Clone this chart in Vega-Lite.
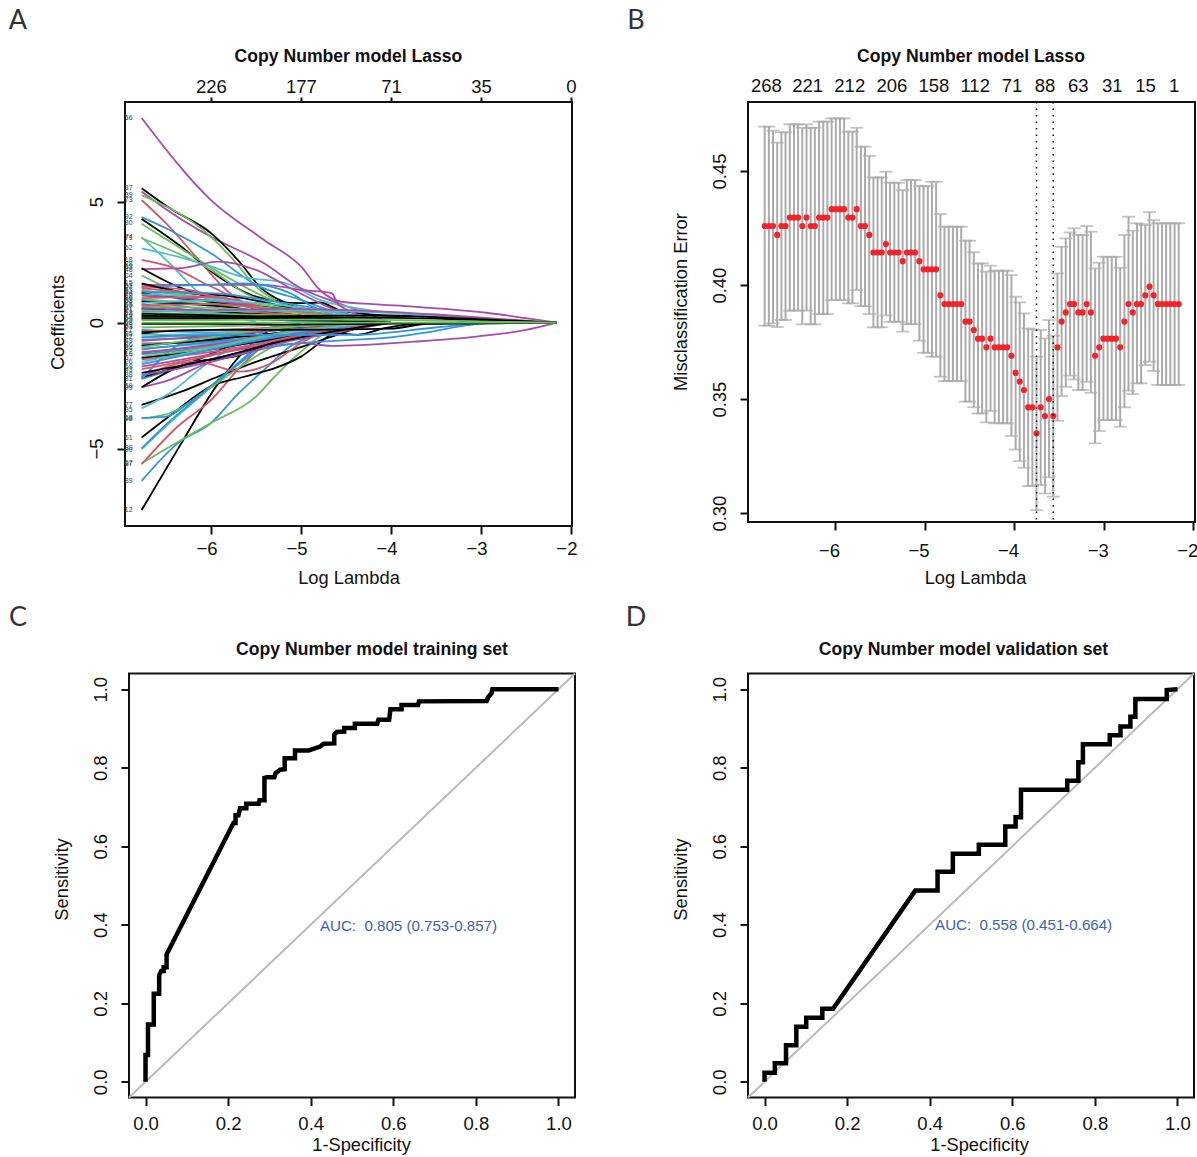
{"$schema":"https://vega.github.io/schema/vega-lite/v6.json","background":"white","padding":{"left":7,"top":6,"right":0,"bottom":0},"bounds":"flush","columns":2,"spacing":{"row":147.5,"column":173},
"config":{"font":"Liberation Sans","view":{"stroke":"#111","strokeWidth":2},"axis":{"domain":false,"grid":false,"tickColor":"#111","tickWidth":2,"tickSize":8,"labelFont":"Liberation Sans","labelFontSize":18.5,"labelColor":"#111","titleFont":"Liberation Sans","titleFontSize":18.3,"titleFontWeight":"normal","titleColor":"#111","labelOverlap":false,"labelBound":false,"labelFlush":false,"labelPadding":5,"titlePadding":12},"axisY":{"labelAngle":-90,"labelAlign":"center","labelBaseline":"bottom","labelPadding":11,"titlePadding":20}},
"datasets":{
"lines":[
{"l":"a1","c":"p","x":-6.77,"y":8.35},{"l":"a1","c":"p","x":-6,"y":5},{"l":"a1","c":"p","x":-5.41,"y":3.37},{"l":"a1","c":"p","x":-5,"y":2.29},{"l":"a1","c":"p","x":-4.79,"y":1.33},{"l":"a1","c":"p","x":-4.55,"y":0.85},{"l":"a1","c":"p","x":-4.2,"y":0.75},{"l":"a1","c":"p","x":-3.75,"y":0.65},{"l":"a1","c":"p","x":-2.9,"y":0.38},{"l":"a1","c":"p","x":-2.5,"y":0.18},{"l":"a1","c":"p","x":-2.16,"y":0},
{"l":"a2","c":"p","x":-6.77,"y":5.35},{"l":"a2","c":"p","x":-6.54,"y":4.73},{"l":"a2","c":"p","x":-6,"y":3.5},{"l":"a2","c":"p","x":-5.41,"y":2.42},{"l":"a2","c":"p","x":-5,"y":1.4},{"l":"a2","c":"p","x":-4.58,"y":0.79},{"l":"a2","c":"p","x":-4,"y":0},
{"l":"a3","c":"k","x":-6.77,"y":5.48},{"l":"a3","c":"k","x":-6.46,"y":4.67},{"l":"a3","c":"k","x":-6,"y":3.65},{"l":"a3","c":"k","x":-5.67,"y":2.42},{"l":"a3","c":"k","x":-5.46,"y":1.47},{"l":"a3","c":"k","x":-5.12,"y":0.72},{"l":"a3","c":"k","x":-4.87,"y":0.38},{"l":"a3","c":"k","x":-4.58,"y":0.1},
{"l":"a4","c":"g","x":-6.77,"y":5.2},{"l":"a4","c":"g","x":-6,"y":3.5},{"l":"a4","c":"g","x":-5.75,"y":2.56},{"l":"a4","c":"g","x":-5.5,"y":1.47},{"l":"a4","c":"g","x":-5.12,"y":0.65},{"l":"a4","c":"g","x":-4.79,"y":0.25},{"l":"a4","c":"g","x":-4.3,"y":0},
{"l":"a5","c":"r","x":-6.77,"y":5},{"l":"a5","c":"r","x":-6.46,"y":3.9},{"l":"a5","c":"r","x":-6.17,"y":2.7},{"l":"a5","c":"r","x":-5.83,"y":1.33},{"l":"a5","c":"r","x":-5.58,"y":0.65},{"l":"a5","c":"r","x":-5.16,"y":0.25},{"l":"a5","c":"r","x":-4.6,"y":0},
{"l":"a6","c":"b","x":-6.77,"y":4.3},{"l":"a6","c":"b","x":-6.46,"y":3.78},{"l":"a6","c":"b","x":-6,"y":2.83},{"l":"a6","c":"b","x":-5.5,"y":1.54},{"l":"a6","c":"b","x":-5,"y":0.93},{"l":"a6","c":"b","x":-4.58,"y":0.38},{"l":"a6","c":"b","x":-4,"y":0},
{"l":"a7","c":"k","x":-6.77,"y":4.23},{"l":"a7","c":"k","x":-6.33,"y":3.1},{"l":"a7","c":"k","x":-5.92,"y":1.88},{"l":"a7","c":"k","x":-5.5,"y":1.06},{"l":"a7","c":"k","x":-5,"y":0.79},{"l":"a7","c":"k","x":-4.79,"y":0.82},{"l":"a7","c":"k","x":-4.58,"y":0.52},{"l":"a7","c":"k","x":-4.15,"y":0.31},{"l":"a7","c":"k","x":-3.62,"y":0.25},{"l":"a7","c":"k","x":-3.1,"y":0.04},{"l":"a7","c":"k","x":-2.16,"y":0},
{"l":"a8","c":"g","x":-6.77,"y":4.03},{"l":"a8","c":"g","x":-6.25,"y":2.83},{"l":"a8","c":"g","x":-5.83,"y":1.88},{"l":"a8","c":"g","x":-5.41,"y":1.06},{"l":"a8","c":"g","x":-5,"y":0.52},{"l":"a8","c":"g","x":-4.58,"y":0.25},{"l":"a8","c":"g","x":-4,"y":0},
{"l":"a9","c":"c","x":-6.77,"y":3.48},{"l":"a9","c":"c","x":-6.46,"y":2.42},{"l":"a9","c":"c","x":-6.17,"y":1.33},{"l":"a9","c":"c","x":-5.75,"y":0.25},{"l":"a9","c":"c","x":-5.5,"y":0.04},
{"l":"a10","c":"g","x":-6.77,"y":3.44},{"l":"a10","c":"g","x":-6.37,"y":2.83},{"l":"a10","c":"g","x":-6,"y":2.15},{"l":"a10","c":"g","x":-5.62,"y":1.2},{"l":"a10","c":"g","x":-5.08,"y":0.52},{"l":"a10","c":"g","x":-4.4,"y":0},
{"l":"a11","c":"c","x":-6.77,"y":3.03},{"l":"a11","c":"c","x":-6.37,"y":2.69},{"l":"a11","c":"c","x":-6,"y":2.29},{"l":"a11","c":"c","x":-5.67,"y":1.88},{"l":"a11","c":"c","x":-5.16,"y":1.6},{"l":"a11","c":"c","x":-4.79,"y":0.93},{"l":"a11","c":"c","x":-4.37,"y":0.58},{"l":"a11","c":"c","x":-3.75,"y":0.31},{"l":"a11","c":"c","x":-3.1,"y":0.1},{"l":"a11","c":"c","x":-2.16,"y":0},
{"l":"a12","c":"p","x":-6.77,"y":2.18},{"l":"a12","c":"p","x":-6.33,"y":2.22},{"l":"a12","c":"p","x":-5.92,"y":2.49},{"l":"a12","c":"p","x":-5.5,"y":2.15},{"l":"a12","c":"p","x":-5.08,"y":1.33},{"l":"a12","c":"p","x":-4.66,"y":0.58},{"l":"a12","c":"p","x":-4.2,"y":0},
{"l":"a13","c":"r","x":-6.77,"y":2.56},{"l":"a13","c":"r","x":-6.46,"y":2.29},{"l":"a13","c":"r","x":-6,"y":1.47},{"l":"a13","c":"r","x":-5.5,"y":0.65},{"l":"a13","c":"r","x":-5,"y":0.25},{"l":"a13","c":"r","x":-4.5,"y":0},
{"l":"a14","c":"k","x":-6.77,"y":2.22},{"l":"a14","c":"k","x":-6.37,"y":1.47},{"l":"a14","c":"k","x":-5.92,"y":0.93},{"l":"a14","c":"k","x":-5.41,"y":0.52},{"l":"a14","c":"k","x":-4.6,"y":0},
{"l":"a15","c":"g","x":-6.77,"y":1.92},{"l":"a15","c":"g","x":-6.25,"y":1.06},{"l":"a15","c":"g","x":-5.62,"y":0.52},{"l":"a15","c":"g","x":-4.8,"y":0},
{"l":"a16","c":"p","x":-6.77,"y":1.54},{"l":"a16","c":"p","x":-6,"y":1.54},{"l":"a16","c":"p","x":-5.41,"y":1.54},{"l":"a16","c":"p","x":-5,"y":1.33},{"l":"a16","c":"p","x":-4.66,"y":1.2},{"l":"a16","c":"p","x":-4.58,"y":0.72},{"l":"a16","c":"p","x":-4,"y":0},
{"l":"a17","c":"b","x":-6.77,"y":1.47},{"l":"a17","c":"b","x":-6.04,"y":1.54},{"l":"a17","c":"b","x":-5.62,"y":1.6},{"l":"a17","c":"b","x":-5.12,"y":1.2},{"l":"a17","c":"b","x":-4.87,"y":0.65},{"l":"a17","c":"b","x":-4.2,"y":0},
{"l":"a18","c":"r","x":-6.77,"y":1.47},{"l":"a18","c":"r","x":-6.25,"y":1.33},{"l":"a18","c":"r","x":-5.83,"y":0.93},{"l":"a18","c":"r","x":-5,"y":0},
{"l":"a19","c":"k","x":-6.77,"y":1.6},{"l":"a19","c":"k","x":-6.25,"y":1.2},{"l":"a19","c":"k","x":-5.75,"y":1.06},{"l":"a19","c":"k","x":-5.2,"y":0.65},{"l":"a19","c":"k","x":-4.5,"y":0},
{"l":"a20","c":"c","x":-6.77,"y":1.33},{"l":"a20","c":"c","x":-6,"y":0.65},{"l":"a20","c":"c","x":-5.41,"y":0.1},
{"l":"n1","c":"k","x":-6.77,"y":-7.65},{"l":"n1","c":"k","x":-6.33,"y":-4.93},{"l":"n1","c":"k","x":-5.92,"y":-2.48},{"l":"n1","c":"k","x":-5.62,"y":-1.12},{"l":"n1","c":"k","x":-5.33,"y":-0.3},{"l":"n1","c":"k","x":-5,"y":-0.1},
{"l":"n2","c":"b","x":-6.77,"y":-6.46},{"l":"n2","c":"b","x":-6.37,"y":-4.93},{"l":"n2","c":"b","x":-6,"y":-4.1},{"l":"n2","c":"b","x":-5.71,"y":-2.95},{"l":"n2","c":"b","x":-5.41,"y":-1.93},{"l":"n2","c":"b","x":-5.12,"y":-0.98},{"l":"n2","c":"b","x":-4.79,"y":-0.44},{"l":"n2","c":"b","x":-4.3,"y":0},
{"l":"n3","c":"g","x":-6.77,"y":-5.74},{"l":"n3","c":"g","x":-6.33,"y":-4.79},{"l":"n3","c":"g","x":-6,"y":-4.1},{"l":"n3","c":"g","x":-5.5,"y":-3.02},{"l":"n3","c":"g","x":-5.29,"y":-2.2},{"l":"n3","c":"g","x":-5.04,"y":-1.32},{"l":"n3","c":"g","x":-4.79,"y":-0.57},{"l":"n3","c":"g","x":-4.54,"y":-0.16},{"l":"n3","c":"g","x":-4.2,"y":0},
{"l":"n4","c":"r","x":-6.77,"y":-5.78},{"l":"n4","c":"r","x":-6.37,"y":-4.24},{"l":"n4","c":"r","x":-6,"y":-3.16},{"l":"n4","c":"r","x":-5.67,"y":-1.8},{"l":"n4","c":"r","x":-5.29,"y":-0.57},{"l":"n4","c":"r","x":-5,"y":-0.15},{"l":"n4","c":"r","x":-4.5,"y":0},
{"l":"n5","c":"c","x":-6.77,"y":-5.16},{"l":"n5","c":"c","x":-6.46,"y":-4.1},{"l":"n5","c":"c","x":-6.04,"y":-2.75},{"l":"n5","c":"c","x":-5.75,"y":-1.8},{"l":"n5","c":"c","x":-5.33,"y":-0.57},{"l":"n5","c":"c","x":-4.8,"y":0},
{"l":"n6","c":"b","x":-6.77,"y":-5.13},{"l":"n6","c":"b","x":-6.46,"y":-4.03},{"l":"n6","c":"b","x":-6.08,"y":-2.88},{"l":"n6","c":"b","x":-5.75,"y":-1.86},{"l":"n6","c":"b","x":-5.16,"y":-0.44},{"l":"n6","c":"b","x":-4.7,"y":0},
{"l":"n7","c":"k","x":-6.77,"y":-4.69},{"l":"n7","c":"k","x":-6.42,"y":-3.7},{"l":"n7","c":"k","x":-6,"y":-2.6},{"l":"n7","c":"k","x":-5.62,"y":-2.2},{"l":"n7","c":"k","x":-5.29,"y":-1.86},{"l":"n7","c":"k","x":-5,"y":-1.39},{"l":"n7","c":"k","x":-4.7,"y":-0.57},{"l":"n7","c":"k","x":-4.52,"y":-0.16},{"l":"n7","c":"k","x":-4.2,"y":0},
{"l":"n8","c":"k","x":-6.77,"y":-3.36},{"l":"n8","c":"k","x":-6.33,"y":-2.82},{"l":"n8","c":"k","x":-5.92,"y":-2.2},{"l":"n8","c":"k","x":-5.5,"y":-1.6},{"l":"n8","c":"k","x":-5,"y":-1},{"l":"n8","c":"k","x":-4.6,"y":-0.5},{"l":"n8","c":"k","x":-4.2,"y":0},
{"l":"n9","c":"g","x":-6.77,"y":-3.9},{"l":"n9","c":"g","x":-6.46,"y":-3.7},{"l":"n9","c":"g","x":-6.04,"y":-2.75},{"l":"n9","c":"g","x":-5.67,"y":-1.8},{"l":"n9","c":"g","x":-5.38,"y":-1.12},{"l":"n9","c":"g","x":-5,"y":-0.6},{"l":"n9","c":"g","x":-4.5,"y":0},
{"l":"n10","c":"b","x":-6.77,"y":-3.9},{"l":"n10","c":"b","x":-6.5,"y":-3.84},{"l":"n10","c":"b","x":-6.25,"y":-3.29},{"l":"n10","c":"b","x":-5.83,"y":-2.07},{"l":"n10","c":"b","x":-5.41,"y":-0.84},{"l":"n10","c":"b","x":-4.9,"y":0},
{"l":"n11","c":"c","x":-6.77,"y":-3.5},{"l":"n11","c":"c","x":-6.46,"y":-2.88},{"l":"n11","c":"c","x":-6.04,"y":-1.66},{"l":"n11","c":"c","x":-5.62,"y":-0.7},{"l":"n11","c":"c","x":-5,"y":0},
{"l":"n12","c":"p","x":-6.77,"y":-2.64},{"l":"n12","c":"p","x":-6.46,"y":-2.34},{"l":"n12","c":"p","x":-6.04,"y":-1.66},{"l":"n12","c":"p","x":-5.62,"y":-1.25},{"l":"n12","c":"p","x":-5,"y":-0.84},{"l":"n12","c":"p","x":-4.66,"y":-0.95},{"l":"n12","c":"p","x":-3.75,"y":-0.78},{"l":"n12","c":"p","x":-3.05,"y":-0.57},{"l":"n12","c":"p","x":-2.5,"y":-0.3},{"l":"n12","c":"p","x":-2.16,"y":0},
{"l":"n13","c":"b","x":-6.77,"y":-2.3},{"l":"n13","c":"b","x":-6,"y":-1.5},{"l":"n13","c":"b","x":-5,"y":-0.84},{"l":"n13","c":"b","x":-4.5,"y":-0.72},{"l":"n13","c":"b","x":-4,"y":-0.6},{"l":"n13","c":"b","x":-3.6,"y":-0.4},{"l":"n13","c":"b","x":-3.15,"y":-0.1},{"l":"n13","c":"b","x":-2.9,"y":0},
{"l":"n14","c":"k","x":-6.77,"y":-2.64},{"l":"n14","c":"k","x":-6.25,"y":-1.66},{"l":"n14","c":"k","x":-5.75,"y":-1.39},{"l":"n14","c":"k","x":-5.2,"y":-0.7},{"l":"n14","c":"k","x":-4.58,"y":-0.44},{"l":"n14","c":"k","x":-4.37,"y":-0.5},{"l":"n14","c":"k","x":-4.07,"y":-0.23},{"l":"n14","c":"k","x":-3.62,"y":-0.03},{"l":"n14","c":"k","x":-2.16,"y":0},
{"l":"n15","c":"k","x":-6.77,"y":-2.23},{"l":"n15","c":"k","x":-6.25,"y":-1.66},{"l":"n15","c":"k","x":-5.75,"y":-0.91},{"l":"n15","c":"k","x":-5,"y":-0.37},{"l":"n15","c":"k","x":-4.4,"y":0},
{"l":"n16","c":"r","x":-6.77,"y":-2.2},{"l":"n16","c":"r","x":-6.17,"y":-1.59},{"l":"n16","c":"r","x":-5.67,"y":-2},{"l":"n16","c":"r","x":-5.33,"y":-1.66},{"l":"n16","c":"r","x":-5,"y":-0.84},{"l":"n16","c":"r","x":-4.7,"y":-0.3},{"l":"n16","c":"r","x":-4.3,"y":0},
{"l":"n17","c":"p","x":-6.77,"y":-2.14},{"l":"n17","c":"p","x":-6.25,"y":-1.8},{"l":"n17","c":"p","x":-5.62,"y":-1.25},{"l":"n17","c":"p","x":-5,"y":-0.57},{"l":"n17","c":"p","x":-4.5,"y":0},
{"l":"n18","c":"b","x":-6.77,"y":-2.3},{"l":"n18","c":"b","x":-6.25,"y":-0.72},{"l":"n18","c":"b","x":-5.75,"y":-0.44},{"l":"n18","c":"b","x":-5,"y":0},
{"l":"m1","c":"r","x":-6.77,"y":1.4},{"l":"m1","c":"r","x":-6,"y":1.1},{"l":"m1","c":"r","x":-5.2,"y":0.5},{"l":"m1","c":"r","x":-4,"y":0},
{"l":"m2","c":"g","x":-6.77,"y":1.3},{"l":"m2","c":"g","x":-6,"y":1},{"l":"m2","c":"g","x":-5.2,"y":0.6},{"l":"m2","c":"g","x":-4,"y":0},
{"l":"m3","c":"b","x":-6.77,"y":1.25},{"l":"m3","c":"b","x":-6,"y":1.2},{"l":"m3","c":"b","x":-5.2,"y":0.8},{"l":"m3","c":"b","x":-4,"y":0},
{"l":"m4","c":"k","x":-6.77,"y":1.2},{"l":"m4","c":"k","x":-6,"y":0.85},{"l":"m4","c":"k","x":-5.2,"y":0.55},{"l":"m4","c":"k","x":-4,"y":0},
{"l":"m5","c":"c","x":-6.77,"y":1.15},{"l":"m5","c":"c","x":-6,"y":1},{"l":"m5","c":"c","x":-5.2,"y":0.35},{"l":"m5","c":"c","x":-4,"y":0},
{"l":"m6","c":"p","x":-6.77,"y":1.1},{"l":"m6","c":"p","x":-6,"y":0.9},{"l":"m6","c":"p","x":-5.2,"y":0.5},{"l":"m6","c":"p","x":-4,"y":0},
{"l":"m7","c":"r","x":-6.77,"y":1},{"l":"m7","c":"r","x":-6,"y":1.05},{"l":"m7","c":"r","x":-5.2,"y":0.4},{"l":"m7","c":"r","x":-4,"y":0},
{"l":"m8","c":"g","x":-6.77,"y":0.95},{"l":"m8","c":"g","x":-6,"y":0.75},{"l":"m8","c":"g","x":-5.2,"y":0.55},{"l":"m8","c":"g","x":-4,"y":0},
{"l":"m9","c":"b","x":-6.77,"y":0.9},{"l":"m9","c":"b","x":-6,"y":0.5},{"l":"m9","c":"b","x":-5.2,"y":0.1},{"l":"m9","c":"b","x":-4,"y":0},
{"l":"m10","c":"k","x":-6.77,"y":0.85},{"l":"m10","c":"k","x":-6,"y":0.7},{"l":"m10","c":"k","x":-5.2,"y":0.35},{"l":"m10","c":"k","x":-4,"y":0},
{"l":"m11","c":"c","x":-6.77,"y":0.8},{"l":"m11","c":"c","x":-6,"y":0.9},{"l":"m11","c":"c","x":-5.2,"y":0.7},{"l":"m11","c":"c","x":-4,"y":0},
{"l":"m12","c":"p","x":-6.77,"y":0.75},{"l":"m12","c":"p","x":-6,"y":0.4},{"l":"m12","c":"p","x":-5.2,"y":0.15},{"l":"m12","c":"p","x":-4,"y":0},
{"l":"m13","c":"r","x":-6.77,"y":0.7},{"l":"m13","c":"r","x":-6,"y":0.75},{"l":"m13","c":"r","x":-5.2,"y":0.5},{"l":"m13","c":"r","x":-4,"y":0},
{"l":"m14","c":"g","x":-6.77,"y":0.65},{"l":"m14","c":"g","x":-6,"y":0.6},{"l":"m14","c":"g","x":-5.2,"y":0.45},{"l":"m14","c":"g","x":-4,"y":0},
{"l":"m15","c":"b","x":-6.77,"y":0.6},{"l":"m15","c":"b","x":-6,"y":0.35},{"l":"m15","c":"b","x":-5.2,"y":0.2},{"l":"m15","c":"b","x":-4,"y":0},
{"l":"m16","c":"k","x":-6.77,"y":0.55},{"l":"m16","c":"k","x":-6,"y":0.45},{"l":"m16","c":"k","x":-5.2,"y":0.3},{"l":"m16","c":"k","x":-4,"y":0},
{"l":"m17","c":"c","x":-6.77,"y":0.5},{"l":"m17","c":"c","x":-6,"y":0.4},{"l":"m17","c":"c","x":-5.2,"y":0.1},{"l":"m17","c":"c","x":-4,"y":0},
{"l":"m18","c":"r","x":-6.77,"y":0.45},{"l":"m18","c":"r","x":-6,"y":0.5},{"l":"m18","c":"r","x":-5.2,"y":0.35},{"l":"m18","c":"r","x":-4,"y":0},
{"l":"m19","c":"g","x":-6.77,"y":0.4},{"l":"m19","c":"g","x":-6,"y":0.35},{"l":"m19","c":"g","x":-5.2,"y":0.3},{"l":"m19","c":"g","x":-4,"y":0},
{"l":"m20","c":"k","x":-6.77,"y":0.35},{"l":"m20","c":"k","x":-6,"y":0.3},{"l":"m20","c":"k","x":-5.2,"y":0.2},{"l":"m20","c":"k","x":-4,"y":0},
{"l":"m21","c":"b","x":-6.77,"y":0.3},{"l":"m21","c":"b","x":-6,"y":0.2},{"l":"m21","c":"b","x":-5.2,"y":0.1},{"l":"m21","c":"b","x":-4,"y":0},
{"l":"m22","c":"k","x":-6.77,"y":0.25},{"l":"m22","c":"k","x":-6,"y":0.2},{"l":"m22","c":"k","x":-5.2,"y":0.2},{"l":"m22","c":"k","x":-4,"y":0},
{"l":"m23","c":"g","x":-6.77,"y":0.2},{"l":"m23","c":"g","x":-6,"y":0.18},{"l":"m23","c":"g","x":-5.2,"y":0.15},{"l":"m23","c":"g","x":-4,"y":0},
{"l":"m24","c":"k","x":-6.77,"y":0.15},{"l":"m24","c":"k","x":-6,"y":0.15},{"l":"m24","c":"k","x":-5.2,"y":0.12},{"l":"m24","c":"k","x":-4,"y":0},
{"l":"m25","c":"g","x":-6.77,"y":-0.2},{"l":"m25","c":"g","x":-6,"y":-0.15},{"l":"m25","c":"g","x":-5.2,"y":-0.1},{"l":"m25","c":"g","x":-4,"y":0},
{"l":"m26","c":"b","x":-6.77,"y":-0.3},{"l":"m26","c":"b","x":-6,"y":-0.4},{"l":"m26","c":"b","x":-5.2,"y":-0.3},{"l":"m26","c":"b","x":-4,"y":0},
{"l":"m27","c":"r","x":-6.77,"y":-0.35},{"l":"m27","c":"r","x":-6,"y":-0.3},{"l":"m27","c":"r","x":-5.2,"y":-0.2},{"l":"m27","c":"r","x":-4,"y":0},
{"l":"m28","c":"k","x":-6.77,"y":-0.45},{"l":"m28","c":"k","x":-6,"y":-0.6},{"l":"m28","c":"k","x":-5.2,"y":-0.25},{"l":"m28","c":"k","x":-4,"y":0},
{"l":"m29","c":"c","x":-6.77,"y":-0.5},{"l":"m29","c":"c","x":-6,"y":-0.45},{"l":"m29","c":"c","x":-5.2,"y":-0.2},{"l":"m29","c":"c","x":-4,"y":0},
{"l":"m30","c":"g","x":-6.77,"y":-0.6},{"l":"m30","c":"g","x":-6,"y":-0.5},{"l":"m30","c":"g","x":-5.2,"y":-0.3},{"l":"m30","c":"g","x":-4,"y":0},
{"l":"m31","c":"b","x":-6.77,"y":-0.7},{"l":"m31","c":"b","x":-6,"y":-0.6},{"l":"m31","c":"b","x":-5.2,"y":-0.5},{"l":"m31","c":"b","x":-4,"y":0},
{"l":"m32","c":"p","x":-6.77,"y":-0.75},{"l":"m32","c":"p","x":-6,"y":-0.55},{"l":"m32","c":"p","x":-5.2,"y":-0.3},{"l":"m32","c":"p","x":-4,"y":0},
{"l":"m33","c":"r","x":-6.77,"y":-0.85},{"l":"m33","c":"r","x":-6,"y":-0.8},{"l":"m33","c":"r","x":-5.2,"y":-0.4},{"l":"m33","c":"r","x":-4,"y":0},
{"l":"m34","c":"b","x":-6.77,"y":-0.9},{"l":"m34","c":"b","x":-6,"y":-0.75},{"l":"m34","c":"b","x":-5.2,"y":-0.55},{"l":"m34","c":"b","x":-4,"y":0},
{"l":"m35","c":"k","x":-6.77,"y":-0.95},{"l":"m35","c":"k","x":-6,"y":-0.7},{"l":"m35","c":"k","x":-5.2,"y":-0.4},{"l":"m35","c":"k","x":-4,"y":0},
{"l":"m36","c":"g","x":-6.77,"y":-1},{"l":"m36","c":"g","x":-6,"y":-0.6},{"l":"m36","c":"g","x":-5.2,"y":-0.2},{"l":"m36","c":"g","x":-4,"y":0},
{"l":"m37","c":"c","x":-6.77,"y":-1.05},{"l":"m37","c":"c","x":-6,"y":-0.85},{"l":"m37","c":"c","x":-5.2,"y":-0.5},{"l":"m37","c":"c","x":-4,"y":0},
{"l":"m38","c":"b","x":-6.77,"y":-1.1},{"l":"m38","c":"b","x":-6,"y":-0.8},{"l":"m38","c":"b","x":-5.2,"y":-0.6},{"l":"m38","c":"b","x":-4,"y":0},
{"l":"m39","c":"r","x":-6.77,"y":-1.2},{"l":"m39","c":"r","x":-6,"y":-0.95},{"l":"m39","c":"r","x":-5.2,"y":-0.55},{"l":"m39","c":"r","x":-4,"y":0},
{"l":"m40","c":"p","x":-6.77,"y":-1.25},{"l":"m40","c":"p","x":-6,"y":-0.9},{"l":"m40","c":"p","x":-5.2,"y":-0.5},{"l":"m40","c":"p","x":-4,"y":0},
{"l":"m41","c":"b","x":-6.77,"y":-1.3},{"l":"m41","c":"b","x":-6,"y":-1},{"l":"m41","c":"b","x":-5.2,"y":-0.7},{"l":"m41","c":"b","x":-4,"y":0},
{"l":"m42","c":"g","x":-6.77,"y":-1.4},{"l":"m42","c":"g","x":-6,"y":-1},{"l":"m42","c":"g","x":-5.2,"y":-0.4},{"l":"m42","c":"g","x":-4,"y":0},
{"l":"m43","c":"k","x":-6.77,"y":-1.45},{"l":"m43","c":"k","x":-6,"y":-1.1},{"l":"m43","c":"k","x":-5.2,"y":-0.6},{"l":"m43","c":"k","x":-4,"y":0},
{"l":"m44","c":"r","x":-6.77,"y":-1.5},{"l":"m44","c":"r","x":-6,"y":-1.2},{"l":"m44","c":"r","x":-5.2,"y":-0.7},{"l":"m44","c":"r","x":-4,"y":0},
{"l":"m45","c":"c","x":-6.77,"y":-1.6},{"l":"m45","c":"c","x":-6,"y":-1.05},{"l":"m45","c":"c","x":-5.2,"y":-0.45},{"l":"m45","c":"c","x":-4,"y":0},
{"l":"m46","c":"b","x":-6.77,"y":-1.7},{"l":"m46","c":"b","x":-6,"y":-1.1},{"l":"m46","c":"b","x":-5.2,"y":-0.55},{"l":"m46","c":"b","x":-4,"y":0},
{"l":"m47","c":"p","x":-6.77,"y":-1.8},{"l":"m47","c":"p","x":-6,"y":-1.3},{"l":"m47","c":"p","x":-5.2,"y":-0.8},{"l":"m47","c":"p","x":-4,"y":0},
{"l":"m48","c":"r","x":-6.77,"y":-1.9},{"l":"m48","c":"r","x":-6,"y":-1.35},{"l":"m48","c":"r","x":-5.2,"y":-0.65},{"l":"m48","c":"r","x":-4,"y":0},
{"l":"m49","c":"k","x":-6.77,"y":-2.05},{"l":"m49","c":"k","x":-6,"y":-1.5},{"l":"m49","c":"k","x":-5.2,"y":-0.75},{"l":"m49","c":"k","x":-4,"y":0},
{"l":"z1","c":"c","x":-6.77,"y":0.5},{"l":"z1","c":"c","x":-6,"y":0.45},{"l":"z1","c":"c","x":-5.2,"y":0.5},{"l":"z1","c":"c","x":-4.4,"y":0.45},{"l":"z1","c":"c","x":-3.5,"y":0.3},{"l":"z1","c":"c","x":-2.8,"y":0.12},{"l":"z1","c":"c","x":-2.16,"y":0},
{"l":"z2","c":"p","x":-6.77,"y":0.6},{"l":"z2","c":"p","x":-6,"y":0.5},{"l":"z2","c":"p","x":-5.2,"y":0.55},{"l":"z2","c":"p","x":-4.4,"y":0.5},{"l":"z2","c":"p","x":-3.5,"y":0.33},{"l":"z2","c":"p","x":-2.8,"y":0.15},{"l":"z2","c":"p","x":-2.16,"y":0},
{"l":"z3","c":"b","x":-6.77,"y":-0.6},{"l":"z3","c":"b","x":-6,"y":-0.5},{"l":"z3","c":"b","x":-5.2,"y":-0.5},{"l":"z3","c":"b","x":-4.4,"y":-0.5},{"l":"z3","c":"b","x":-3.5,"y":-0.2},{"l":"z3","c":"b","x":-3,"y":-0.05},{"l":"z3","c":"b","x":-2.16,"y":0},
{"l":"z4","c":"k","x":-6.77,"y":-0.4},{"l":"z4","c":"k","x":-6,"y":-0.3},{"l":"z4","c":"k","x":-5.2,"y":-0.3},{"l":"z4","c":"k","x":-4,"y":-0.25},{"l":"z4","c":"k","x":-3.6,"y":-0.05},{"l":"z4","c":"k","x":-2.16,"y":0},
{"l":"z5","c":"k","x":-6.77,"y":-0.05},{"l":"z5","c":"k","x":-6,"y":-0.05},{"l":"z5","c":"k","x":-5.2,"y":-0.08},{"l":"z5","c":"k","x":-3.5,"y":-0.03},{"l":"z5","c":"k","x":-2.16,"y":0},
{"l":"z6","c":"k","x":-6.77,"y":0.28},{"l":"z6","c":"k","x":-6,"y":0.25},{"l":"z6","c":"k","x":-5.2,"y":0.26},{"l":"z6","c":"k","x":-4.4,"y":0.28},{"l":"z6","c":"k","x":-3.5,"y":0.22},{"l":"z6","c":"k","x":-2.8,"y":0.1},{"l":"z6","c":"k","x":-2.16,"y":0},
{"l":"z7","c":"k","x":-6.77,"y":0.18},{"l":"z7","c":"k","x":-6,"y":0.18},{"l":"z7","c":"k","x":-5.2,"y":0.18},{"l":"z7","c":"k","x":-4.4,"y":0.2},{"l":"z7","c":"k","x":-3.5,"y":0.16},{"l":"z7","c":"k","x":-2.8,"y":0.07},{"l":"z7","c":"k","x":-2.16,"y":0},
{"l":"z8","c":"g","x":-6.77,"y":0.1},{"l":"z8","c":"g","x":-6,"y":0.1},{"l":"z8","c":"g","x":-5.2,"y":0.12},{"l":"z8","c":"g","x":-4.4,"y":0.12},{"l":"z8","c":"g","x":-3.5,"y":0.08},{"l":"z8","c":"g","x":-2.8,"y":0.03},{"l":"z8","c":"g","x":-2.16,"y":0},
{"l":"z9","c":"g","x":-6.77,"y":0},{"l":"z9","c":"g","x":-4.4,"y":0},{"l":"z9","c":"g","x":-2.16,"y":0}
],
"labs":[{"x":-6.77,"y":8.35,"t":"56"},{"x":-6.77,"y":5.48,"t":"37"},{"x":-6.77,"y":5.2,"t":"39"},{"x":-6.77,"y":5.0,"t":"73"},{"x":-6.77,"y":4.3,"t":"92"},{"x":-6.77,"y":4.08,"t":"80"},{"x":-6.77,"y":3.48,"t":"74"},{"x":-6.77,"y":3.44,"t":"71"},{"x":-6.77,"y":3.03,"t":"52"},{"x":-6.77,"y":2.56,"t":"18"},{"x":-6.77,"y":2.4,"t":"28"},{"x":-6.77,"y":2.25,"t":"33"},{"x":-6.77,"y":2.15,"t":"48"},{"x":-6.77,"y":1.92,"t":"04"},{"x":-6.77,"y":1.6,"t":"15"},{"x":-6.77,"y":1.5,"t":"62"},{"x":-6.77,"y":1.4,"t":"27"},{"x":-6.77,"y":1.3,"t":"83"},{"x":-6.77,"y":1.2,"t":"44"},{"x":-6.77,"y":1.1,"t":"19"},{"x":-6.77,"y":1,"t":"36"},{"x":-6.77,"y":0.9,"t":"58"},{"x":-6.77,"y":0.8,"t":"21"},{"x":-6.77,"y":0.7,"t":"65"},{"x":-6.77,"y":0.6,"t":"47"},{"x":-6.77,"y":0.5,"t":"91"},{"x":-6.77,"y":0.4,"t":"13"},{"x":-6.77,"y":0.3,"t":"76"},{"x":-6.77,"y":0.2,"t":"54"},{"x":-6.77,"y":0.1,"t":"29"},{"x":-6.77,"y":0,"t":"08"},{"x":-6.77,"y":-0.1,"t":"41"},{"x":-6.77,"y":-0.2,"t":"63"},{"x":-6.77,"y":-0.3,"t":"17"},{"x":-6.77,"y":-0.45,"t":"95"},{"x":-6.77,"y":-0.6,"t":"22"},{"x":-6.77,"y":-0.75,"t":"49"},{"x":-6.77,"y":-0.9,"t":"86"},{"x":-6.77,"y":-1.05,"t":"34"},{"x":-6.77,"y":-1.2,"t":"72"},{"x":-6.77,"y":-1.3,"t":"10"},{"x":-6.77,"y":-1.45,"t":"57"},{"x":-6.77,"y":-1.6,"t":"26"},{"x":-6.77,"y":-1.8,"t":"69"},{"x":-6.77,"y":-1.95,"t":"43"},{"x":-6.77,"y":-2.14,"t":"38"},{"x":-6.77,"y":-2.3,"t":"81"},{"x":-6.77,"y":-2.6,"t":"59"},{"x":-6.77,"y":-2.68,"t":"99"},{"x":-6.77,"y":-3.36,"t":"77"},{"x":-6.77,"y":-3.56,"t":"35"},{"x":-6.77,"y":-3.9,"t":"68"},{"x":-6.77,"y":-3.95,"t":"98"},{"x":-6.77,"y":-4.69,"t":"61"},{"x":-6.77,"y":-5.13,"t":"30"},{"x":-6.77,"y":-5.18,"t":"90"},{"x":-6.77,"y":-5.74,"t":"67"},{"x":-6.77,"y":-5.78,"t":"87"},{"x":-6.77,"y":-6.46,"t":"89"},{"x":-6.77,"y":-7.65,"t":"12"}],
"cv":[{"x":-6.784,"m":0.4259,"u":0.4695,"d":0.3822},{"x":-6.737,"m":0.4259,"u":0.4695,"d":0.3822},{"x":-6.691,"m":0.4259,"u":0.4677,"d":0.3832},{"x":-6.644,"m":0.422,"u":0.4625,"d":0.3816},{"x":-6.597,"m":0.4259,"u":0.467,"d":0.3847},{"x":-6.551,"m":0.4259,"u":0.467,"d":0.3847},{"x":-6.504,"m":0.4296,"u":0.4705,"d":0.3888},{"x":-6.457,"m":0.4296,"u":0.4705,"d":0.3888},{"x":-6.411,"m":0.4296,"u":0.4705,"d":0.3888},{"x":-6.364,"m":0.4259,"u":0.469,"d":0.3828},{"x":-6.317,"m":0.4296,"u":0.4705,"d":0.3888},{"x":-6.27,"m":0.4259,"u":0.469,"d":0.3828},{"x":-6.224,"m":0.4259,"u":0.469,"d":0.3828},{"x":-6.177,"m":0.4296,"u":0.4717,"d":0.3873},{"x":-6.13,"m":0.4296,"u":0.4717,"d":0.3873},{"x":-6.084,"m":0.4296,"u":0.4717,"d":0.3873},{"x":-6.037,"m":0.4333,"u":0.4731,"d":0.3934},{"x":-5.99,"m":0.4333,"u":0.4731,"d":0.3934},{"x":-5.944,"m":0.4333,"u":0.4731,"d":0.3934},{"x":-5.897,"m":0.4333,"u":0.4731,"d":0.3934},{"x":-5.85,"m":0.4296,"u":0.4673,"d":0.392},{"x":-5.804,"m":0.4296,"u":0.4673,"d":0.392},{"x":-5.757,"m":0.4333,"u":0.469,"d":0.3978},{"x":-5.71,"m":0.4259,"u":0.4607,"d":0.3908},{"x":-5.664,"m":0.4259,"u":0.4607,"d":0.3908},{"x":-5.617,"m":0.422,"u":0.4567,"d":0.3873},{"x":-5.57,"m":0.4143,"u":0.4472,"d":0.3815},{"x":-5.524,"m":0.4143,"u":0.4472,"d":0.3815},{"x":-5.477,"m":0.4143,"u":0.4472,"d":0.3815},{"x":-5.43,"m":0.418,"u":0.4497,"d":0.3867},{"x":-5.384,"m":0.4143,"u":0.4449,"d":0.3839},{"x":-5.337,"m":0.4143,"u":0.4449,"d":0.3839},{"x":-5.29,"m":0.4143,"u":0.4449,"d":0.3839},{"x":-5.244,"m":0.4105,"u":0.4417,"d":0.3796},{"x":-5.197,"m":0.4143,"u":0.4461,"d":0.3829},{"x":-5.15,"m":0.4143,"u":0.4461,"d":0.3829},{"x":-5.104,"m":0.4143,"u":0.4461,"d":0.3829},{"x":-5.057,"m":0.4105,"u":0.4434,"d":0.3756},{"x":-5.01,"m":0.4069,"u":0.4434,"d":0.3703},{"x":-4.963,"m":0.4069,"u":0.4434,"d":0.3703},{"x":-4.917,"m":0.4069,"u":0.4453,"d":0.3686},{"x":-4.87,"m":0.4069,"u":0.4453,"d":0.3686},{"x":-4.823,"m":0.3955,"u":0.4312,"d":0.3598},{"x":-4.777,"m":0.3917,"u":0.4256,"d":0.3579},{"x":-4.73,"m":0.3917,"u":0.4256,"d":0.3579},{"x":-4.683,"m":0.3917,"u":0.4256,"d":0.3579},{"x":-4.637,"m":0.3917,"u":0.4256,"d":0.3579},{"x":-4.59,"m":0.3917,"u":0.4256,"d":0.3579},{"x":-4.543,"m":0.384,"u":0.4195,"d":0.3489},{"x":-4.497,"m":0.384,"u":0.4195,"d":0.3489},{"x":-4.45,"m":0.3803,"u":0.4144,"d":0.3464},{"x":-4.403,"m":0.3765,"u":0.4095,"d":0.3437},{"x":-4.357,"m":0.3765,"u":0.4095,"d":0.3437},{"x":-4.31,"m":0.3727,"u":0.4059,"d":0.3398},{"x":-4.263,"m":0.3765,"u":0.4085,"d":0.3448},{"x":-4.217,"m":0.3727,"u":0.4063,"d":0.3394},{"x":-4.17,"m":0.3727,"u":0.4063,"d":0.3394},{"x":-4.123,"m":0.3727,"u":0.4063,"d":0.3394},{"x":-4.077,"m":0.3727,"u":0.4063,"d":0.3394},{"x":-4.03,"m":0.369,"u":0.4044,"d":0.3338},{"x":-3.983,"m":0.3615,"u":0.3949,"d":0.3279},{"x":-3.937,"m":0.3577,"u":0.3924,"d":0.3228},{"x":-3.89,"m":0.354,"u":0.3876,"d":0.3199},{"x":-3.843,"m":0.3464,"u":0.381,"d":0.3119},{"x":-3.796,"m":0.3464,"u":0.3806,"d":0.3119},{"x":-3.75,"m":0.335,"u":0.3686,"d":0.3013},{"x":-3.703,"m":0.3464,"u":0.3803,"d":0.3123},{"x":-3.656,"m":0.3426,"u":0.3766,"d":0.3086},{"x":-3.61,"m":0.35,"u":0.3847,"d":0.3157},{"x":-3.563,"m":0.3426,"u":0.3778,"d":0.3072},{"x":-3.516,"m":0.3727,"u":0.4051,"d":0.3405},{"x":-3.47,"m":0.384,"u":0.4168,"d":0.3513},{"x":-3.423,"m":0.388,"u":0.4205,"d":0.3554},{"x":-3.376,"m":0.3917,"u":0.4231,"d":0.3603},{"x":-3.33,"m":0.3917,"u":0.4249,"d":0.3586},{"x":-3.283,"m":0.388,"u":0.422,"d":0.354},{"x":-3.236,"m":0.388,"u":0.422,"d":0.354},{"x":-3.19,"m":0.3917,"u":0.4259,"d":0.3576},{"x":-3.143,"m":0.388,"u":0.4234,"d":0.3528},{"x":-3.096,"m":0.369,"u":0.4073,"d":0.3306},{"x":-3.05,"m":0.3727,"u":0.4098,"d":0.336},{"x":-3.003,"m":0.3765,"u":0.4124,"d":0.3408},{"x":-2.956,"m":0.3765,"u":0.4124,"d":0.3408},{"x":-2.91,"m":0.3765,"u":0.4124,"d":0.3408},{"x":-2.863,"m":0.3765,"u":0.4124,"d":0.3408},{"x":-2.816,"m":0.3727,"u":0.4076,"d":0.3379},{"x":-2.769,"m":0.384,"u":0.422,"d":0.3464},{"x":-2.723,"m":0.3917,"u":0.43,"d":0.3537},{"x":-2.676,"m":0.388,"u":0.4239,"d":0.3522},{"x":-2.629,"m":0.3917,"u":0.4271,"d":0.3569},{"x":-2.583,"m":0.3917,"u":0.4268,"d":0.3569},{"x":-2.536,"m":0.3955,"u":0.4263,"d":0.3649},{"x":-2.489,"m":0.3993,"u":0.432,"d":0.3664},{"x":-2.443,"m":0.3955,"u":0.4285,"d":0.3623},{"x":-2.396,"m":0.3917,"u":0.4271,"d":0.3562},{"x":-2.349,"m":0.3917,"u":0.4271,"d":0.3562},{"x":-2.303,"m":0.3917,"u":0.4271,"d":0.3562},{"x":-2.256,"m":0.3917,"u":0.4271,"d":0.3562},{"x":-2.209,"m":0.3917,"u":0.4271,"d":0.3562},{"x":-2.163,"m":0.3917,"u":0.4271,"d":0.3562}],
"roc1":[{"i":0,"x":0,"y":0},{"i":1,"x":0,"y":0.068},{"i":2,"x":0.006,"y":0.068},{"i":3,"x":0.006,"y":0.146},{"i":4,"x":0.02,"y":0.146},{"i":5,"x":0.02,"y":0.224},{"i":6,"x":0.033,"y":0.224},{"i":7,"x":0.033,"y":0.271},{"i":8,"x":0.038,"y":0.282},{"i":9,"x":0.044,"y":0.282},{"i":10,"x":0.044,"y":0.292},{"i":11,"x":0.051,"y":0.292},{"i":12,"x":0.051,"y":0.324},{"i":13,"x":0.209,"y":0.651},{"i":14,"x":0.213,"y":0.659},{"i":15,"x":0.218,"y":0.659},{"i":16,"x":0.218,"y":0.679},{"i":17,"x":0.225,"y":0.679},{"i":18,"x":0.229,"y":0.697},{"i":19,"x":0.244,"y":0.697},{"i":20,"x":0.244,"y":0.708},{"i":21,"x":0.274,"y":0.708},{"i":22,"x":0.276,"y":0.717},{"i":23,"x":0.288,"y":0.717},{"i":24,"x":0.288,"y":0.774},{"i":25,"x":0.294,"y":0.776},{"i":26,"x":0.312,"y":0.776},{"i":27,"x":0.315,"y":0.786},{"i":28,"x":0.326,"y":0.795},{"i":29,"x":0.337,"y":0.796},{"i":30,"x":0.337,"y":0.824},{"i":31,"x":0.362,"y":0.824},{"i":32,"x":0.362,"y":0.844},{"i":33,"x":0.395,"y":0.844},{"i":34,"x":0.423,"y":0.854},{"i":35,"x":0.431,"y":0.861},{"i":36,"x":0.457,"y":0.862},{"i":37,"x":0.457,"y":0.884},{"i":38,"x":0.463,"y":0.891},{"i":39,"x":0.481,"y":0.892},{"i":40,"x":0.481,"y":0.901},{"i":41,"x":0.507,"y":0.901},{"i":42,"x":0.507,"y":0.912},{"i":43,"x":0.561,"y":0.912},{"i":44,"x":0.564,"y":0.922},{"i":45,"x":0.59,"y":0.922},{"i":46,"x":0.593,"y":0.949},{"i":47,"x":0.62,"y":0.949},{"i":48,"x":0.62,"y":0.96},{"i":49,"x":0.66,"y":0.96},{"i":50,"x":0.662,"y":0.969},{"i":51,"x":0.826,"y":0.97},{"i":52,"x":0.83,"y":0.98},{"i":53,"x":0.838,"y":0.99},{"i":54,"x":0.84,"y":1},{"i":55,"x":1,"y":1}],
"roc2":[{"i":0,"x":0,"y":0},{"i":1,"x":0,"y":0.023},{"i":2,"x":0.025,"y":0.023},{"i":3,"x":0.025,"y":0.047},{"i":4,"x":0.052,"y":0.047},{"i":5,"x":0.052,"y":0.093},{"i":6,"x":0.077,"y":0.093},{"i":7,"x":0.077,"y":0.14},{"i":8,"x":0.101,"y":0.14},{"i":9,"x":0.101,"y":0.163},{"i":10,"x":0.14,"y":0.163},{"i":11,"x":0.14,"y":0.186},{"i":12,"x":0.166,"y":0.186},{"i":13,"x":0.365,"y":0.487},{"i":14,"x":0.419,"y":0.487},{"i":15,"x":0.419,"y":0.535},{"i":16,"x":0.456,"y":0.535},{"i":17,"x":0.456,"y":0.581},{"i":18,"x":0.519,"y":0.581},{"i":19,"x":0.519,"y":0.604},{"i":20,"x":0.583,"y":0.604},{"i":21,"x":0.583,"y":0.65},{"i":22,"x":0.608,"y":0.65},{"i":23,"x":0.608,"y":0.674},{"i":24,"x":0.621,"y":0.674},{"i":25,"x":0.621,"y":0.744},{"i":26,"x":0.733,"y":0.744},{"i":27,"x":0.733,"y":0.767},{"i":28,"x":0.76,"y":0.767},{"i":29,"x":0.76,"y":0.814},{"i":30,"x":0.771,"y":0.814},{"i":31,"x":0.771,"y":0.86},{"i":32,"x":0.836,"y":0.86},{"i":33,"x":0.836,"y":0.883},{"i":34,"x":0.862,"y":0.883},{"i":35,"x":0.862,"y":0.905},{"i":36,"x":0.886,"y":0.905},{"i":37,"x":0.886,"y":0.93},{"i":38,"x":0.898,"y":0.93},{"i":39,"x":0.898,"y":0.975},{"i":40,"x":0.974,"y":0.975},{"i":41,"x":0.974,"y":0.998},{"i":42,"x":1,"y":1}],
"diag":[{"i":0,"x":-0.04,"y":-0.04},{"i":1,"x":1.04,"y":1.04}]
},
"concat":[
{"width":447,"height":424,"resolve":{"axis":{"x":"independent","y":"independent"}},
"layer":[
{"data":{"name":"lines"},"mark":{"type":"line","strokeWidth":1.8,"interpolate":"monotone"},"encoding":{"x":{"field":"x","type":"quantitative","scale":{"domain":[-6.955,-1.988],"nice":false,"zero":false},"axis":{"title":"Log Lambda","values":[-6,-5,-4,-3,-2],"format":"d","labelOffset":-4.5}},"y":{"field":"y","type":"quantitative","scale":{"domain":[-8.3,9],"nice":false,"zero":false},"axis":{"title":"Coefficients","values":[-5.14,0,4.94],"labelExpr":"datum.value<-1?'−5':datum.value>1?'5':'0'","titleY":220}},"color":{"field":"c","type":"nominal","legend":null,"scale":{"domain":["k","r","g","b","c","p"],"range":["#000000","#D9536A","#69BD5A","#2E96DC","#4BC0D0","#A94BA8"]}},"detail":{"field":"l"}}},
{"data":{"name":"labs"},"mark":{"type":"text","fontSize":7,"align":"right","baseline":"middle","dx":-9,"color":"#444"},"encoding":{"x":{"field":"x","type":"quantitative","scale":{"domain":[-6.955,-1.988],"nice":false,"zero":false},"axis":{"orient":"top","title":null,"values":[-6,-5,-4,-3,-2],"tickSize":5,"labelPadding":1,"labelExpr":"{'6':'226','5':'177','4':'71','3':'35','2':'0'}[format(-datum.value,'d')]"}},"y":{"field":"y","type":"quantitative","scale":{"domain":[-8.3,9],"nice":false,"zero":false},"axis":null},"text":{"field":"t"}}},
{"data":{"values":[{"x":-8.144,"y":12.3,"t":"A"}]},"mark":{"type":"text","font":"Lato","fontSize":27,"color":"#333","baseline":"middle"},"encoding":{"x":{"field":"x","type":"quantitative","scale":{"domain":[-6.955,-1.988],"nice":false,"zero":false},"axis":null},"y":{"field":"y","type":"quantitative","scale":{"domain":[-8.3,9],"nice":false,"zero":false},"axis":null},"text":{"field":"t"}}},
{"data":{"values":[{"x":-4.472,"y":10.84,"t":"Copy Number model Lasso"}]},"mark":{"type":"text","fontSize":17.6,"fontWeight":"bold","color":"#111","baseline":"middle"},"encoding":{"x":{"field":"x","type":"quantitative","scale":{"domain":[-6.955,-1.988],"nice":false,"zero":false},"axis":null},"y":{"field":"y","type":"quantitative","scale":{"domain":[-8.3,9],"nice":false,"zero":false},"axis":null},"text":{"field":"t"}}}
]},
{"width":447,"height":420,"resolve":{"axis":{"x":"independent","y":"independent"}},
"layer":[
{"data":{"name":"cv"},"mark":{"type":"rule","color":"#ABABAB","strokeWidth":2},"encoding":{"x":{"field":"x","type":"quantitative","scale":{"domain":[-6.97,-1.981],"nice":false,"zero":false},"axis":{"title":"Log Lambda","values":[-6,-5,-4,-3,-2],"format":"d","labelOffset":-6,"labelPadding":11,"titlePadding":10,"titleX":227}},"y":{"field":"u","type":"quantitative","scale":{"domain":[0.2961,0.4803],"nice":false,"zero":false},"axis":{"title":"Misclassification Error","values":[0.3,0.35,0.4,0.45],"format":".2f","titleY":199.5}},"y2":{"field":"d"}}},
{"data":{"name":"cv"},"mark":{"type":"tick","orient":"horizontal","color":"#ABABAB","size":13,"thickness":1.8},"encoding":{"x":{"field":"x","type":"quantitative","scale":{"domain":[-6.97,-1.981],"nice":false,"zero":false},"axis":null},"y":{"field":"u","type":"quantitative","scale":{"domain":[0.2961,0.4803],"nice":false,"zero":false},"axis":null}}},
{"data":{"name":"cv"},"mark":{"type":"tick","orient":"horizontal","color":"#ABABAB","size":13,"thickness":1.8},"encoding":{"x":{"field":"x","type":"quantitative","scale":{"domain":[-6.97,-1.981],"nice":false,"zero":false},"axis":null},"y":{"field":"d","type":"quantitative","scale":{"domain":[0.2961,0.4803],"nice":false,"zero":false},"axis":null}}},
{"data":{"name":"cv"},"mark":{"type":"circle","color":"#F5222A","size":38,"opacity":1},"encoding":{"x":{"field":"x","type":"quantitative","scale":{"domain":[-6.97,-1.981],"nice":false,"zero":false},"axis":null},"y":{"field":"m","type":"quantitative","scale":{"domain":[0.2961,0.4803],"nice":false,"zero":false},"axis":null}}},
{"data":{"values":[{"x":-3.75},{"x":-3.563}]},"mark":{"type":"rule","color":"#000","strokeWidth":1.5,"strokeDash":[1.5,5]},"encoding":{"x":{"field":"x","type":"quantitative","scale":{"domain":[-6.97,-1.981],"nice":false,"zero":false},"axis":{"orient":"top","title":null,"values":[-6.77,-6.31,-5.84,-5.37,-4.9,-4.44,-4.03,-3.66,-3.29,-2.91,-2.54,-2.22],"tickSize":0,"labelPadding":7,"labelExpr":"{'6.77':'268','6.31':'221','5.84':'212','5.37':'206','4.90':'158','4.44':'112','4.03':'71','3.66':'88','3.29':'63','2.91':'31','2.54':'15','2.22':'1'}[format(-datum.value,'.2f')]"}}}},
{"data":{"values":[{"x":-8.22,"y":0.5158,"t":"B"}]},"mark":{"type":"text","font":"Lato","fontSize":27,"color":"#333","baseline":"middle"},"encoding":{"x":{"field":"x","type":"quantitative","scale":{"domain":[-6.97,-1.981],"nice":false,"zero":false},"axis":null},"y":{"field":"y","type":"quantitative","scale":{"domain":[0.2961,0.4803],"nice":false,"zero":false},"axis":null},"text":{"field":"t"}}},
{"data":{"values":[{"x":-4.481,"y":0.5001,"t":"Copy Number model Lasso"}]},"mark":{"type":"text","fontSize":17.6,"fontWeight":"bold","color":"#111","baseline":"middle"},"encoding":{"x":{"field":"x","type":"quantitative","scale":{"domain":[-6.97,-1.981],"nice":false,"zero":false},"axis":null},"y":{"field":"y","type":"quantitative","scale":{"domain":[0.2961,0.4803],"nice":false,"zero":false},"axis":null},"text":{"field":"t"}}}
]},
{"width":450,"height":424,"view":{"stroke":null},"resolve":{"axis":{"x":"independent","y":"independent"}},
"layer":[
{"data":{"values":[{"a":-0.04,"b":1.04,"e":-0.04,"f":1.04}]},"mark":{"type":"rect","fill":null,"stroke":"#111","strokeWidth":2},"encoding":{"x":{"field":"a","type":"quantitative","scale":{"domain":[-0.04,1.04],"range":[4,450],"nice":false,"zero":false},"axis":null},"x2":{"field":"b"},"y":{"field":"e","type":"quantitative","scale":{"domain":[-0.04,1.04],"nice":false,"zero":false},"axis":null},"y2":{"field":"f"}}},
{"data":{"name":"diag"},"mark":{"type":"line","color":"#BBBBBB","strokeWidth":2},"encoding":{"x":{"field":"x","type":"quantitative","scale":{"domain":[-0.04,1.04],"range":[4,450],"nice":false,"zero":false},"axis":null},"y":{"field":"y","type":"quantitative","scale":{"domain":[-0.04,1.04],"nice":false,"zero":false},"axis":null},"order":{"field":"i"}}},
{"data":{"name":"roc1"},"mark":{"type":"line","color":"#000","strokeWidth":4.5,"strokeJoin":"miter"},"encoding":{"x":{"field":"x","type":"quantitative","scale":{"domain":[-0.04,1.04],"range":[4,450],"nice":false,"zero":false},"axis":{"title":"1-Specificity","values":[0,0.2,0.4,0.6,0.8,1],"format":".1f","labelPadding":9,"titlePadding":3,"titleX":236}},"y":{"field":"y","type":"quantitative","scale":{"domain":[-0.04,1.04],"nice":false,"zero":false},"axis":{"title":"Sensitivity","values":[0,0.2,0.4,0.6,0.8,1],"format":".1f","offset":-4,"titleY":205.5}},"order":{"field":"i"}}},
{"data":{"values":[{"x":0.4225,"y":0.397,"t":"AUC:\u00a0\u00a00.805 (0.753-0.857)"}]},"mark":{"type":"text","fontSize":15.1,"align":"left","baseline":"middle","color":"#3A62B5"},"encoding":{"x":{"field":"x","type":"quantitative","scale":{"domain":[-0.04,1.04],"range":[4,450],"nice":false,"zero":false},"axis":null},"y":{"field":"y","type":"quantitative","scale":{"domain":[-0.04,1.04],"nice":false,"zero":false},"axis":null},"text":{"field":"t"}}},
{"data":{"values":[{"x":-0.309,"y":1.181,"t":"C"}]},"mark":{"type":"text","font":"Lato","fontSize":27,"color":"#333","baseline":"middle"},"encoding":{"x":{"field":"x","type":"quantitative","scale":{"domain":[-0.04,1.04],"range":[4,450],"nice":false,"zero":false},"axis":null},"y":{"field":"y","type":"quantitative","scale":{"domain":[-0.04,1.04],"nice":false,"zero":false},"axis":null},"text":{"field":"t"}}},
{"data":{"values":[{"x":0.5484,"y":1.0999,"t":"Copy Number model training set"}]},"mark":{"type":"text","fontSize":17.6,"fontWeight":"bold","color":"#111","baseline":"middle"},"encoding":{"x":{"field":"x","type":"quantitative","scale":{"domain":[-0.04,1.04],"range":[4,450],"nice":false,"zero":false},"axis":null},"y":{"field":"y","type":"quantitative","scale":{"domain":[-0.04,1.04],"nice":false,"zero":false},"axis":null},"text":{"field":"t"}}}
]},
{"width":446,"height":424,"resolve":{"axis":{"x":"independent","y":"independent"}},
"layer":[
{"data":{"name":"diag"},"mark":{"type":"line","color":"#BBBBBB","strokeWidth":2},"encoding":{"x":{"field":"x","type":"quantitative","scale":{"domain":[-0.04,1.04],"nice":false,"zero":false},"axis":null},"y":{"field":"y","type":"quantitative","scale":{"domain":[-0.04,1.04],"nice":false,"zero":false},"axis":null},"order":{"field":"i"}}},
{"data":{"name":"roc2"},"mark":{"type":"line","color":"#000","strokeWidth":4.5,"strokeJoin":"miter"},"encoding":{"x":{"field":"x","type":"quantitative","scale":{"domain":[-0.04,1.04],"nice":false,"zero":false},"axis":{"title":"1-Specificity","values":[0,0.2,0.4,0.6,0.8,1],"format":".1f","labelPadding":9,"titlePadding":3,"titleX":231}},"y":{"field":"y","type":"quantitative","scale":{"domain":[-0.04,1.04],"nice":false,"zero":false},"axis":{"title":"Sensitivity","values":[0,0.2,0.4,0.6,0.8,1],"format":".1f","titleY":205.5}},"order":{"field":"i"}}},
{"data":{"values":[{"x":0.413,"y":0.399,"t":"AUC:\u00a0\u00a00.558 (0.451-0.664)"}]},"mark":{"type":"text","fontSize":15.1,"align":"left","baseline":"middle","color":"#3A62B5"},"encoding":{"x":{"field":"x","type":"quantitative","scale":{"domain":[-0.04,1.04],"nice":false,"zero":false},"axis":null},"y":{"field":"y","type":"quantitative","scale":{"domain":[-0.04,1.04],"nice":false,"zero":false},"axis":null},"text":{"field":"t"}}},
{"data":{"values":[{"x":-0.311,"y":1.181,"t":"D"}]},"mark":{"type":"text","font":"Lato","fontSize":27,"color":"#333","baseline":"middle"},"encoding":{"x":{"field":"x","type":"quantitative","scale":{"domain":[-0.04,1.04],"nice":false,"zero":false},"axis":null},"y":{"field":"y","type":"quantitative","scale":{"domain":[-0.04,1.04],"nice":false,"zero":false},"axis":null},"text":{"field":"t"}}},
{"data":{"values":[{"x":0.4818,"y":1.0999,"t":"Copy Number model validation set"}]},"mark":{"type":"text","fontSize":17.6,"fontWeight":"bold","color":"#111","baseline":"middle"},"encoding":{"x":{"field":"x","type":"quantitative","scale":{"domain":[-0.04,1.04],"nice":false,"zero":false},"axis":null},"y":{"field":"y","type":"quantitative","scale":{"domain":[-0.04,1.04],"nice":false,"zero":false},"axis":null},"text":{"field":"t"}}}
]}
]}
